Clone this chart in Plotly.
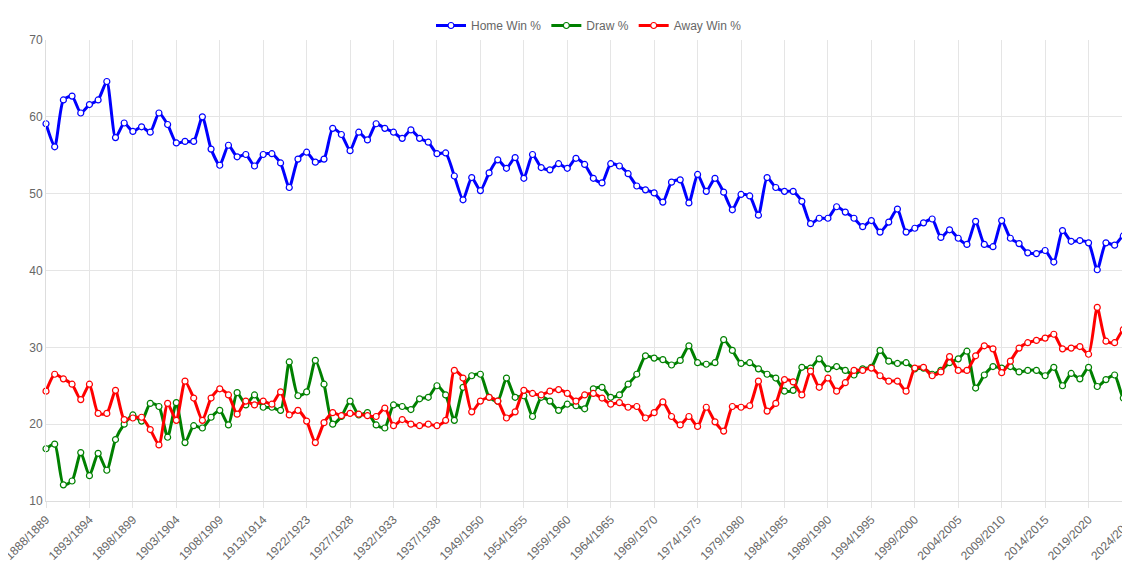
import plotly.graph_objects as go

# seasons, skipping the war years
seasons = ([f"{y}/{y+1}" for y in range(1888, 1915)]
           + [f"{y}/{y+1}" for y in range(1919, 1939)]
           + [f"{y}/{y+1}" for y in range(1946, 2025)])

home_win = [59.1, 56.1, 62.2, 62.7, 60.5, 61.6, 62.2, 64.6, 57.3, 59.2,
            58.1, 58.7, 58.0, 60.5, 59.0, 56.6, 56.8, 56.8, 60.0, 55.8,
            53.7, 56.3, 54.8, 55.1, 53.6, 55.1, 55.2, 54.0, 50.8, 54.5,
            55.4, 54.1, 54.5, 58.5, 57.7, 55.6, 58.0, 57.0, 59.1, 58.5,
            58.0, 57.2, 58.3, 57.2, 56.7, 55.2, 55.3, 52.3, 49.2, 52.1,
            50.4, 52.7, 54.4, 53.3, 54.7, 52.0, 55.1, 53.4, 53.1, 53.9,
            53.3, 54.6, 53.8, 52.0, 51.4, 53.9, 53.6, 52.6, 51.0, 50.5,
            50.1, 48.9, 51.5, 51.8, 48.8, 52.5, 50.3, 52.0, 50.2, 47.9,
            49.9, 49.7, 47.2, 52.1, 50.8, 50.3, 50.3, 49.0, 46.1, 46.8,
            46.8, 48.3, 47.6, 46.8, 45.7, 46.5, 45.0, 46.3, 48.0, 45.0,
            45.5, 46.2, 46.7, 44.3, 45.3, 44.2, 43.4, 46.4, 43.4, 43.1,
            46.5, 44.2, 43.5, 42.3, 42.2, 42.6, 41.1, 45.2, 43.8, 43.9,
            43.6, 40.1, 43.6, 43.3, 44.5, 43.3]

draw = [16.8, 17.4, 12.1, 12.6, 16.3, 13.3, 16.2, 14.0, 18.0, 20.0,
        21.2, 20.4, 22.7, 22.3, 18.3, 22.8, 17.6, 19.8, 19.5, 20.9,
        21.8, 19.9, 24.1, 22.5, 23.8, 22.2, 22.2, 21.8, 28.1, 23.7,
        24.2, 28.3, 25.2, 20.0, 21.0, 23.0, 21.2, 21.5, 19.9, 19.5,
        22.5, 22.3, 21.9, 23.3, 23.5, 25.0, 23.8, 20.5, 24.8, 26.3,
        26.5, 23.5, 23.0, 26.0, 23.5, 23.7, 21.0, 23.5, 23.0, 21.8,
        22.6, 22.4, 22.0, 24.6, 24.8, 23.5, 23.8, 25.2, 26.5, 28.9,
        28.6, 28.4, 27.7, 28.3, 30.2, 28.0, 27.8, 28.0, 31.0, 29.6,
        27.9, 28.0, 27.2, 26.5, 26.0, 24.3, 24.4, 27.4, 27.3, 28.5,
        27.2, 27.5, 27.0, 26.4, 27.2, 27.4, 29.6, 28.2, 27.9, 28.0,
        27.2, 27.3, 26.5, 27.0, 28.0, 28.5, 29.5, 24.7, 26.4, 27.5,
        27.3, 27.5, 26.8, 27.0, 27.0, 26.3, 27.4, 25.0, 26.6, 25.9,
        27.4, 24.9, 25.8, 26.4, 23.4, 27.9]

away_win = [24.3, 26.5, 25.9, 25.2, 23.2, 25.2, 21.4, 21.4, 24.4, 20.6,
            20.8, 20.9, 19.3, 17.3, 22.7, 20.5, 25.6, 23.4, 20.5, 23.4,
            24.6, 23.8, 21.3, 23.0, 22.5, 23.0, 22.6, 24.2, 21.2, 21.8,
            20.4, 17.6, 20.2, 21.5, 21.1, 21.4, 21.3, 21.1, 21.0, 22.1,
            19.8, 20.6, 20.0, 19.8, 20.0, 19.8, 20.5, 27.0, 26.0, 21.6,
            23.0, 23.5, 23.0, 20.8, 21.6, 24.4, 24.0, 23.8, 24.3, 24.5,
            24.0, 23.0, 23.8, 24.0, 23.4, 22.6, 22.8, 22.2, 22.3, 20.8,
            21.5, 22.9, 21.0, 19.9, 21.0, 19.7, 22.2, 20.3, 19.1, 22.3,
            22.2, 22.4, 25.6, 21.7, 22.7, 25.8, 25.5, 23.8, 26.9, 24.8,
            26.0, 24.3, 25.4, 27.0, 27.0, 27.3, 26.3, 25.6, 25.6, 24.3,
            27.3, 27.4, 26.3, 26.8, 28.8, 27.0, 27.0, 28.9, 30.2, 29.8,
            26.7, 28.2, 29.9, 30.6, 30.9, 31.2, 31.7, 29.8, 29.9, 30.1,
            29.1, 35.2, 30.8, 30.6, 32.3, 29.0]

series = [("Home Win %", home_win, "#0000ff"),
          ("Draw %", draw, "#008000"),
          ("Away Win %", away_win, "#ff0000")]

fig = go.Figure()
for name, vals, color in series:
    fig.add_trace(go.Scatter(
        x=seasons, y=vals, name=name, mode="lines+markers", cliponaxis=False,
        line=dict(color=color, width=3, shape="spline", smoothing=0.6),
        marker=dict(symbol="circle", size=6, color="white",
                    line=dict(color=color, width=1.2))))

fig.update_layout(
    width=1130, height=565,
    margin=dict(l=38, r=6, t=32, b=72, autoexpand=False),
    paper_bgcolor="white", plot_bgcolor="white",
    font=dict(family="Liberation Sans, Arial", size=12, color="#666"),
    legend=dict(orientation="h", x=0.5, xanchor="center", y=1.0, yanchor="bottom",
                font=dict(size=12, color="#666")),
)
fig.update_xaxes(
    type="category", tickvals=seasons[::5] + [seasons[-1]], tickangle=-45,
    automargin=False, showgrid=True, gridcolor="#e5e5e5", showline=True,
    linecolor="#ddd", ticks="outside", tickcolor="#e5e5e5", ticklen=6,
    range=[0, len(seasons) - 1])
fig.update_yaxes(range=[10, 70], dtick=10, showgrid=True, gridcolor="#e5e5e5",
                 automargin=False, zeroline=False, showline=True, linecolor="#ddd")

fig.write_html("out.html")
